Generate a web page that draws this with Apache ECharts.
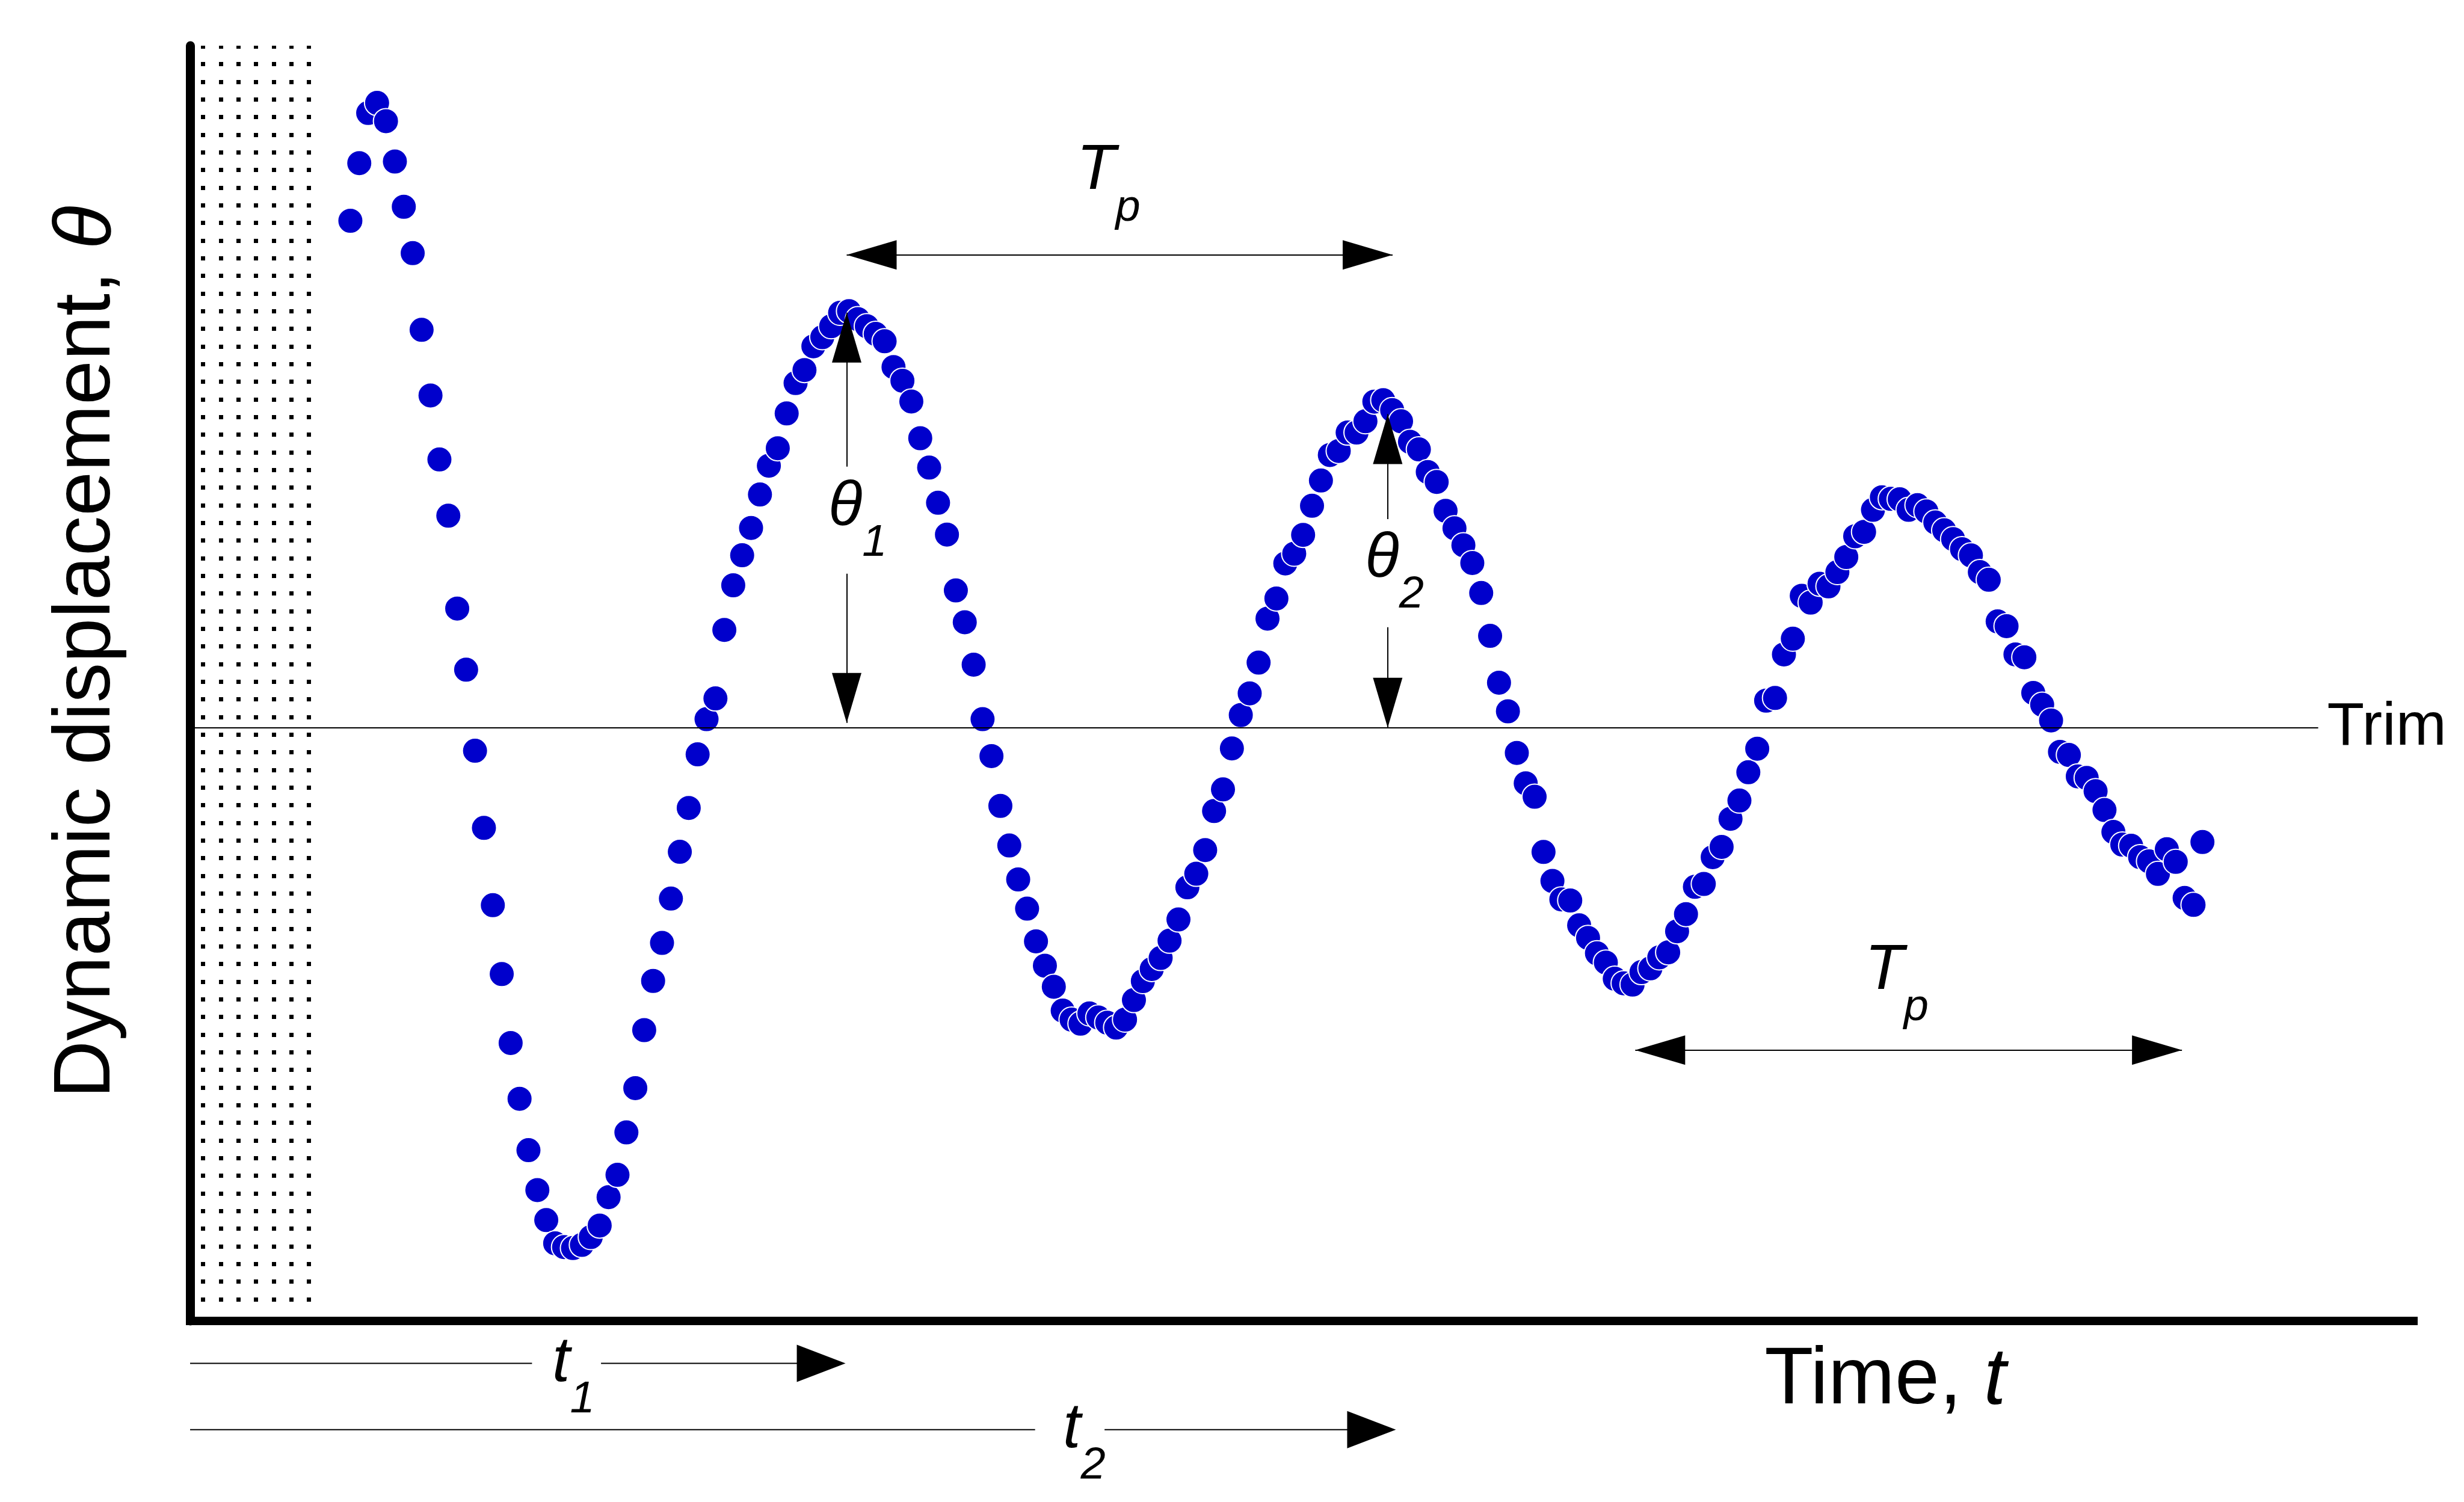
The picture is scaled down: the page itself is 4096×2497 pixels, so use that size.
<!DOCTYPE html>
<html>
<head>
<meta charset="utf-8">
<title>Dynamic displacement vs time</title>
<script src="https://cdn.jsdelivr.net/npm/echarts@6.0.0/dist/echarts.min.js"></script>
<style>
  html, body { margin: 0; padding: 0; background: #fff; }
  #chart { width: 4096px; height: 2497px; }
</style>
</head>
<body>
<div id="chart"></div>
<script>
// samples are evenly spaced in time, x = sample number
const displacement = [
  322.6, 359.3, 391.2, 397.6, 386.0, 360.3, 331.5, 302.0, 253.2, 211.4,
  170.7, 134.9, 75.8, 36.9, -14.7, -63.8, -113.0, -156.8, -200.7, -236.2,
  -268.9, -294.3, -313.4, -328.2, -330.6, -331.2, -329.2, -324.2, -316.9, -298.8,
  -284.6, -257.6, -229.4, -192.5, -161.2, -137.0, -108.8, -79.0, -51.1, -17.0,
  5.4, 18.6, 62.2, 90.6, 109.7, 127.1, 148.4, 166.7, 177.8, 200.0,
  219.3, 227.6, 242.7, 248.5, 255.5, 264.0, 265.1, 260.0, 255.5, 250.6,
  245.9, 229.5, 220.8, 207.6, 184.2, 165.5, 143.1, 122.9, 87.3, 67.1,
  40.1, 5.4, -18.1, -49.8, -75.0, -96.6, -115.2, -136.0, -151.5, -164.9,
  -180.1, -185.8, -188.4, -181.9, -184.5, -187.8, -190.9, -185.8, -173.4, -161.3,
  -153.6, -146.6, -135.6, -122.1, -101.6, -93.0, -77.9, -53.1, -39.3, -13.2,
  8.0, 21.8, 41.4, 69.4, 82.2, 104.5, 110.7, 122.7, 141.2, 157.3,
  173.5, 176.1, 187.8, 187.8, 195.0, 207.5, 208.4, 202.1, 195.0, 181.9,
  177.1, 162.7, 156.4, 138.0, 126.9, 116.1, 104.8, 85.7, 58.4, 28.6,
  10.4, -16.1, -35.4, -44.0, -79.1, -97.6, -109.3, -110.0, -125.8, -133.8,
  -143.6, -149.5, -159.8, -162.7, -163.5, -155.6, -153.2, -146.2, -143.0, -129.6,
  -118.7, -101.3, -99.5, -82.4, -75.9, -58.0, -46.4, -28.4, -13.4, 17.2,
  18.9, 46.6, 56.6, 83.9, 79.6, 91.6, 89.9, 99.0, 108.6, 121.8,
  124.6, 138.6, 146.6, 145.6, 145.3, 138.6, 141.6, 137.6, 130.6, 125.6,
  120.0, 113.6, 109.6, 99.0, 94.1, 67.6, 64.6, 46.6, 44.8, 22.1,
  14.6, 4.6, -15.4, -17.4, -31.0, -32.0, -40.4, -52.4, -66.4, -74.4,
  -75.2, -82.4, -85.1, -93.1, -77.4, -85.4, -108.4, -112.8, -72.8
];

const timeRange = [-18, 231.7];
const dispRange = [-377.6, 434];
const trimLevel = 0;
const trimEnd = 221;
const shadeEnd = -3.7;     // dotted start-up band
const shadeFloor = -370;

// theta arrows: time, top tip, label gap, bottom tip
const thetaArrows = [
  { time: 55.74, tip: 264.1, gapTop: 166.1, gapBottom: 98.0, base: 3 },
  { time: 116.5, tip: 199.5, gapTop: 132.7, gapBottom: 63.9, base: 0 }
];
// period arrows
const periodArrows = [
  { from: 55.74, to: 117.05, level: 300.9 },
  { from: 144.3, to: 205.7, level: -205.2 }
];
// t1 / t2 arrows under the axis
const timeArrows = [
  { tip: 55.61, gapFrom: 20.4, gapTo: 28.15, level: -404.6, labelAt: 25.06, sub: '1' },
  { tip: 117.42, gapFrom: 76.9, gapTo: 84.7, level: -446.8, labelAt: 82.42, sub: '2' }
];
const labelMarks = [
  { time: 56.97, disp: 140.5, text: '{th|θ}{sub|1}' },
  { time: 117.26, disp: 107.5, text: '{th|θ}{sub|2}' },
  { time: 85.15, disp: 354.0, text: '{big|T}{sub|p}' },
  { time: 173.67, disp: -154.9, text: '{big|T}{sub|p}' }
];

const FONT = '"Liberation Sans", Arial, Helvetica, sans-serif';
const INK = '#000';
const DOT = '#0000cc';

const subRich = {
  big: { fontSize: 106, fontStyle: 'italic', lineHeight: 106, fontFamily: FONT, color: INK },
  th: { fontSize: 104, fontStyle: 'italic', lineHeight: 104, fontFamily: FONT, color: INK },
  sub: { fontSize: 74, fontStyle: 'italic', lineHeight: 74, padding: [122, 0, 0, 0], fontFamily: FONT, color: INK }
};

function dotTile() {
  const c = document.createElement('canvas');
  c.width = 88;
  c.height = 88;
  const ctx = c.getContext('2d');
  ctx.fillStyle = INK;
  [12, 41, 70].forEach(x => [15, 45, 74].forEach(y => ctx.fillRect(x, y, 7, 7)));
  return c;
}

const headEnd = { symbol: 'triangle', symbolSize: [49, 83], symbolOffset: [0, 41.5] };

const lines = [[
  {
    coord: [timeRange[0], trimLevel], symbol: 'none',
    label: { show: true, position: 'end', distance: 15, formatter: 'Trim', color: INK, fontSize: 101, fontFamily: FONT }
  },
  { coord: [trimEnd, trimLevel], symbol: 'none' }
]];
thetaArrows.forEach(a => {
  lines.push([{ coord: [a.time, a.gapTop], symbol: 'none' }, Object.assign({ coord: [a.time, a.tip] }, headEnd)]);
  lines.push([{ coord: [a.time, a.gapBottom], symbol: 'none' }, Object.assign({ coord: [a.time, a.base] }, headEnd)]);
});
periodArrows.forEach(a => {
  lines.push([Object.assign({ coord: [a.from, a.level] }, headEnd), Object.assign({ coord: [a.to, a.level] }, headEnd)]);
});

const chart = echarts.init(document.getElementById('chart'), null, { renderer: 'canvas' });

chart.setOption({
  animation: false,
  backgroundColor: '#fff',
  grid: { left: 316, right: 84, top: 76, bottom: 301, outerBoundsMode: 'none' },
  xAxis: {
    type: 'value',
    min: timeRange[0],
    max: timeRange[1],
    axisLine: { show: true, onZero: false, lineStyle: { color: INK, width: 14, cap: 'square' } },
    axisTick: { show: false },
    axisLabel: { show: false },
    splitLine: { show: false },
    name: '{r|Time, }{i|t}',
    nameLocation: 'middle',
    nameGap: 34,
    nameTextStyle: {
      padding: [0, 0, 0, 1940],
      rich: {
        r: { fontSize: 133, lineHeight: 133, fontFamily: FONT, color: INK },
        i: { fontSize: 133, lineHeight: 133, fontStyle: 'italic', fontFamily: FONT, color: INK }
      }
    }
  },
  yAxis: {
    type: 'value',
    min: dispRange[0],
    max: dispRange[1],
    axisLine: { show: true, onZero: false, lineStyle: { color: INK, width: 15 } },
    axisTick: { show: false },
    axisLabel: { show: false },
    splitLine: { show: false },
    name: '{r|Dynamic displacement, }{i|θ}',
    nameLocation: 'middle',
    nameRotate: 90,
    nameGap: 104,
    nameTextStyle: {
      padding: [0, 0, 0, 104],
      rich: {
        r: { fontSize: 133, lineHeight: 133, fontFamily: FONT, color: INK },
        i: { fontSize: 133, lineHeight: 133, fontStyle: 'italic', fontFamily: FONT, color: INK }
      }
    }
  },
  series: [{
    type: 'scatter',
    silent: true,
    symbol: 'circle',
    symbolSize: 42,
    itemStyle: { color: DOT, borderColor: '#fff', borderWidth: 2, opacity: 1 },
    emphasis: { disabled: true },
    data: displacement.map((d, k) => [k, d]),
    markArea: {
      silent: true,
      label: { show: false },
      itemStyle: { color: { image: dotTile(), repeat: 'repeat' }, opacity: 1, borderWidth: 0 },
      data: [[{ coord: [timeRange[0], shadeFloor] }, { coord: [shadeEnd, dispRange[1]] }]]
    },
    markLine: {
      silent: true,
      animation: false,
      symbol: ['none', 'none'],
      label: { show: false },
      lineStyle: { color: INK, width: 2, type: 'solid' },
      emphasis: { disabled: true },
      data: lines
    },
    markPoint: {
      silent: true,
      animation: false,
      symbol: 'circle',
      symbolSize: 1,
      itemStyle: { color: 'rgba(0,0,0,0)' },
      label: { show: true, position: 'inside', color: INK, fontFamily: FONT, rich: subRich },
      data: labelMarks.map(m => ({ coord: [m.time, m.disp], label: { formatter: m.text } }))
    }
  }]
});

// t1 / t2 sit below the axis, outside the grid: place them through the axes' scale
function px(t, d) {
  return chart.convertToPixel({ gridIndex: 0 }, [t, d]);
}

const graphics = [];
timeArrows.forEach(a => {
  const y = px(0, a.level)[1];
  const x0 = px(timeRange[0], a.level)[0];
  const g0 = px(a.gapFrom, a.level)[0];
  const g1 = px(a.gapTo, a.level)[0];
  const tip = px(a.tip, a.level)[0];
  const lx = px(a.labelAt, a.level)[0];
  const stroke = { stroke: INK, lineWidth: 2 };
  graphics.push(
    { type: 'line', silent: true, shape: { x1: x0, y1: y, x2: g0, y2: y }, style: stroke },
    { type: 'line', silent: true, shape: { x1: g1, y1: y, x2: tip - 70, y2: y }, style: stroke },
    { type: 'polygon', silent: true, shape: { points: [[tip, y], [tip - 81, y - 31], [tip - 81, y + 31]] }, style: { fill: INK } },
    {
      type: 'text', silent: true, x: lx, y: y,
      style: {
        text: '{big|t}{sub|' + a.sub + '}',
        align: 'center',
        verticalAlign: 'middle',
        rich: {
          big: { fontSize: 106, fontStyle: 'italic', lineHeight: 106, fontFamily: FONT, fill: INK },
          sub: { fontSize: 74, fontStyle: 'italic', lineHeight: 74, padding: [122, 0, 0, 0], fontFamily: FONT, fill: INK }
        }
      }
    }
  );
});

chart.setOption({ graphic: graphics });

window.addEventListener('resize', () => chart.resize());
</script>
</body>
</html>
